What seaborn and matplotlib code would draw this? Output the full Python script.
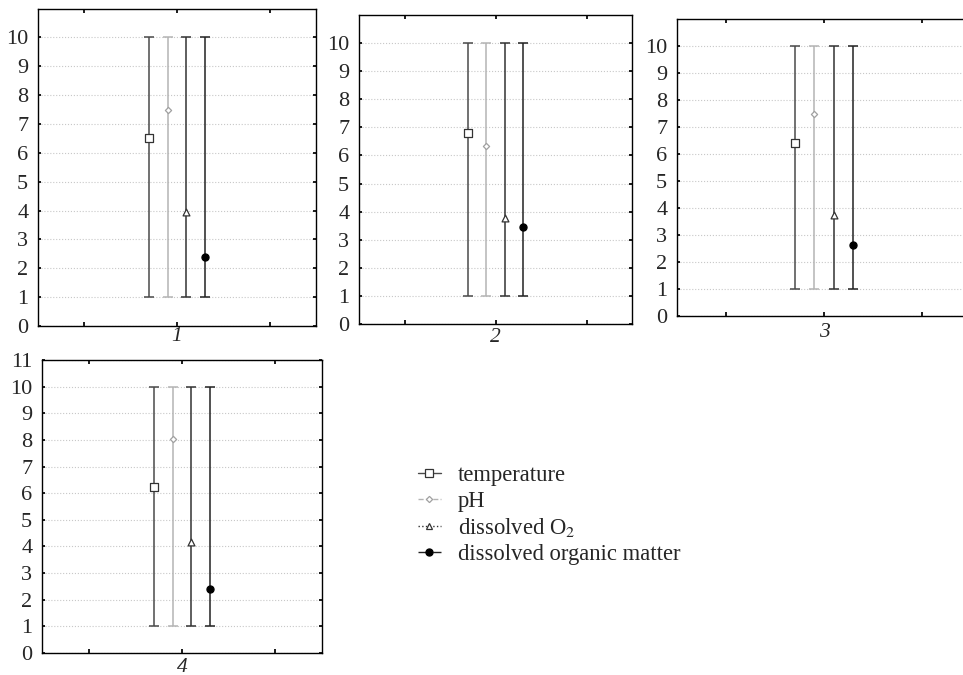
import matplotlib
matplotlib.use("Agg")
import matplotlib.pyplot as plt
from matplotlib.lines import Line2D
import numpy as np
import pandas as pd
import seaborn as sns

# ============================================================================
# DATA
# ============================================================================

sites = ["1", "2", "3", "4"]
variables = ["temperature", "pH", "dissolved O$_2$", "dissolved organic matter"]

temperature = [6.5, 6.8, 6.4, 6.25]
ph = [7.5, 6.35, 7.47, 8.05]
oxygen = [3.95, 3.77, 3.75, 4.15]
organic = [2.4, 3.45, 2.63, 2.4]

range_low = [1, 1, 1, 1]
range_high = [10, 10, 10, 10]

rows = []
for var, values in zip(variables, [temperature, ph, oxygen, organic]):
    for site, v, lo, hi in zip(sites, values, range_low, range_high):
        rows.append({"site": site, "variable": var, "value": v, "low": lo, "high": hi})
df = pd.DataFrame(rows)

# ============================================================================
# STYLE
# ============================================================================

sns.set_theme(style="white")
plt.rcParams["font.family"] = ["Liberation Serif", "DejaVu Serif"]
plt.rcParams["mathtext.fontset"] = "stix"

line_colors = {variables[0]: "#4a4a4a", variables[1]: "#b4b4b4",
               variables[2]: "#333333", variables[3]: "#222222"}
face_colors = {variables[0]: "white", variables[1]: "white",
               variables[2]: "white", variables[3]: "black"}
edge_colors = {variables[0]: "#333333", variables[1]: "#a0a0a0",
               variables[2]: "#333333", variables[3]: "black"}
markers = {variables[0]: "s", variables[1]: "D", variables[2]: "^", variables[3]: "o"}
sizes = {variables[0]: 26, variables[1]: 10, variables[2]: 24, variables[3]: 26}
legend_ls = {variables[0]: "-", variables[1]: "--", variables[2]: ":", variables[3]: "-."}

offsets = np.linspace(-0.3, 0.3, len(variables))

# axes boxes in pixels: left, top, right, bottom (figure is 963 x 675)
W, H = 963, 675
boxes = {
    "1": (38, 8.5, 316, 326),
    "2": (359, 14.7, 632, 324.3),
    "3": (677, 19, 971, 316),
    "4": (42, 360, 322, 653),
}
label_pad = {"1": 1.0, "2": 3.0, "3": 5, "4": 3.5}

fig = plt.figure(figsize=(9.63, 6.75), dpi=100)

for site in sites:
    l, t, r, b = boxes[site]
    ax = fig.add_axes([l / W, 1 - b / H, (r - l) / W, (b - t) / H])
    sub = df[df["site"] == site].reset_index(drop=True)

    for i, row in sub.iterrows():
        x = offsets[i]
        var = row["variable"]
        ax.errorbar([x], [row["value"]],
                    yerr=[[row["value"] - row["low"]], [row["high"] - row["value"]]],
                    fmt="none", ecolor=line_colors[var], elinewidth=1.1,
                    capsize=3.3, capthick=1.1, zorder=2)
        sns.scatterplot(x=[x], y=[row["value"]], marker=markers[var],
                        color=face_colors[var], edgecolor=edge_colors[var],
                        linewidth=0.9, s=sizes[var], ax=ax, zorder=3, legend=False)

    ax.set_xlim(-1.5, 1.5)
    ax.set_ylim(0, 11)
    ax.set_xticks([-1, 0, 1])
    ax.set_xticklabels(["", site, ""], fontstyle="italic", fontsize=15.5)
    if site == "4":
        ax.set_yticks(range(0, 12))
    else:
        ax.set_yticks(range(0, 11))
    ax.tick_params(axis="y", labelsize=16, direction="in", length=2,
                   left=True, right=True, pad=7, color="black")
    ax.tick_params(axis="x", direction="in", length=3, top=True, bottom=True,
                   pad=label_pad[site], color="black")
    ax.yaxis.grid(True, linestyle=":", color="#c8c8c8", linewidth=0.8)
    ax.xaxis.grid(False)
    for s in ax.spines.values():
        s.set_color("black")
        s.set_linewidth(1.0)
    ax.set_xlabel("")
    ax.set_ylabel("")

handles = [Line2D([0], [0], color=line_colors[v], linestyle=legend_ls[v], linewidth=1.0,
                  marker=markers[v], markerfacecolor=face_colors[v],
                  markeredgecolor=edge_colors[v], markersize=np.sqrt(sizes[v]),
                  markeredgewidth=0.9)
           for v in variables]
fig.legend(handles, variables, loc="upper left",
           bbox_to_anchor=(418 / W, 1 - 465 / H), frameon=False,
           fontsize=16.3, handlelength=1.0, handletextpad=0.75,
           labelspacing=0.2, borderpad=0, borderaxespad=0)

plt.savefig("out.png", dpi=100)
